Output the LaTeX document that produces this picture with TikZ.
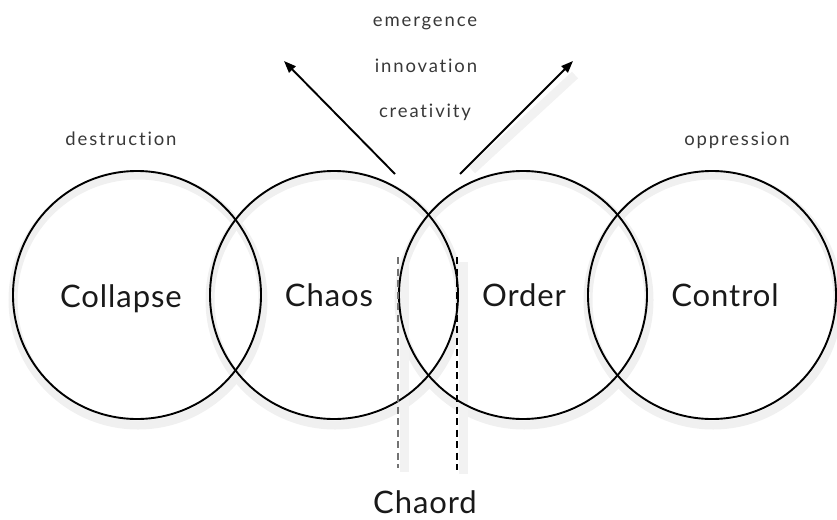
\documentclass[tikz,border=0pt]{standalone}
\usepackage{fontspec}
\setmainfont{Lato}
\newfontfamily\smallfont[LetterSpace=10,Ligatures=NoCommon]{Lato}
\newfontfamily\bigfont[LetterSpace=3,Ligatures=NoCommon]{Lato}
\usetikzlibrary{arrows.meta}
\begin{document}
\begin{tikzpicture}[x=1pt,y=-1pt,
  ring/.style={circle,draw=black,line width=1.9pt,minimum size=248pt,inner sep=0pt},
  ringshadow/.style={circle,draw=black!6,line width=9pt,minimum size=250pt,inner sep=0pt},
  biglabel/.style={anchor=base,inner sep=0pt,text=black!90,font=\bigfont\fontsize{31}{31}\selectfont},
  smalllabel/.style={anchor=base,inner sep=0pt,text=black!78,font=\smallfont\fontsize{18.5}{18.5}\selectfont},
  arrowline/.style={line width=1.9pt,-{Triangle[length=12pt,width=9pt]}},
  dashline/.style={line width=2pt,dash pattern=on 7pt off 4.5pt}
]
\useasboundingbox (0,0) rectangle (837,519);
% shadows
\foreach \cx in {137,334,523,712}{
  \node[ringshadow] at (\cx+1,300) {};
}
\draw[black!5,line width=9pt] (404,262) -- (404,472);
\draw[black!5,line width=9pt] (463,262) -- (463,474);
\draw[black!5,line width=9pt] (472,170) -- (575,75);
% circles
\node[ring] (collapse) at (137,295) {};
\node[ring] (chaos) at (334,295) {};
\node[ring] (order) at (523,295) {};
\node[ring] (control) at (712,295) {};
% circle labels
\node[biglabel] (tcollapse) at (121,307) {Collapse};
\node[biglabel] (tchaos) at (329,306) {Chaos};
\node[biglabel] (torder) at (524,306) {Order};
\node[biglabel] (tcontrol) at (725,306) {Control};
\node[biglabel] (tchaord) at (425,513) {Chaord};
% small labels
\node[smalllabel] (temerg) at (425,27) {emergence};
\node[smalllabel] (tinnov) at (426,72) {innovation};
\node[smalllabel] (tcreat) at (425,117) {creativity};
\node[smalllabel] (tdestr) at (121,145) {destruction};
\node[smalllabel] (toppr) at (737,145) {oppression};
% arrows
\coordinate (l0) at (395,174);
\coordinate (l1) at (284,61);
\coordinate (r0) at (460,174);
\coordinate (r1) at (573,61);
\draw[arrowline] (l0) -- (l1);
\draw[arrowline] (r0) -- (r1);
% dashed lines
\coordinate (d1a) at (398,257);
\coordinate (d1b) at (398,468);
\coordinate (d2a) at (457,257);
\coordinate (d2b) at (457,470);
\draw[dashline,black!55] (d1a) -- (d1b);
\draw[dashline,black] (d2a) -- (d2b);
\end{tikzpicture}
\end{document}
